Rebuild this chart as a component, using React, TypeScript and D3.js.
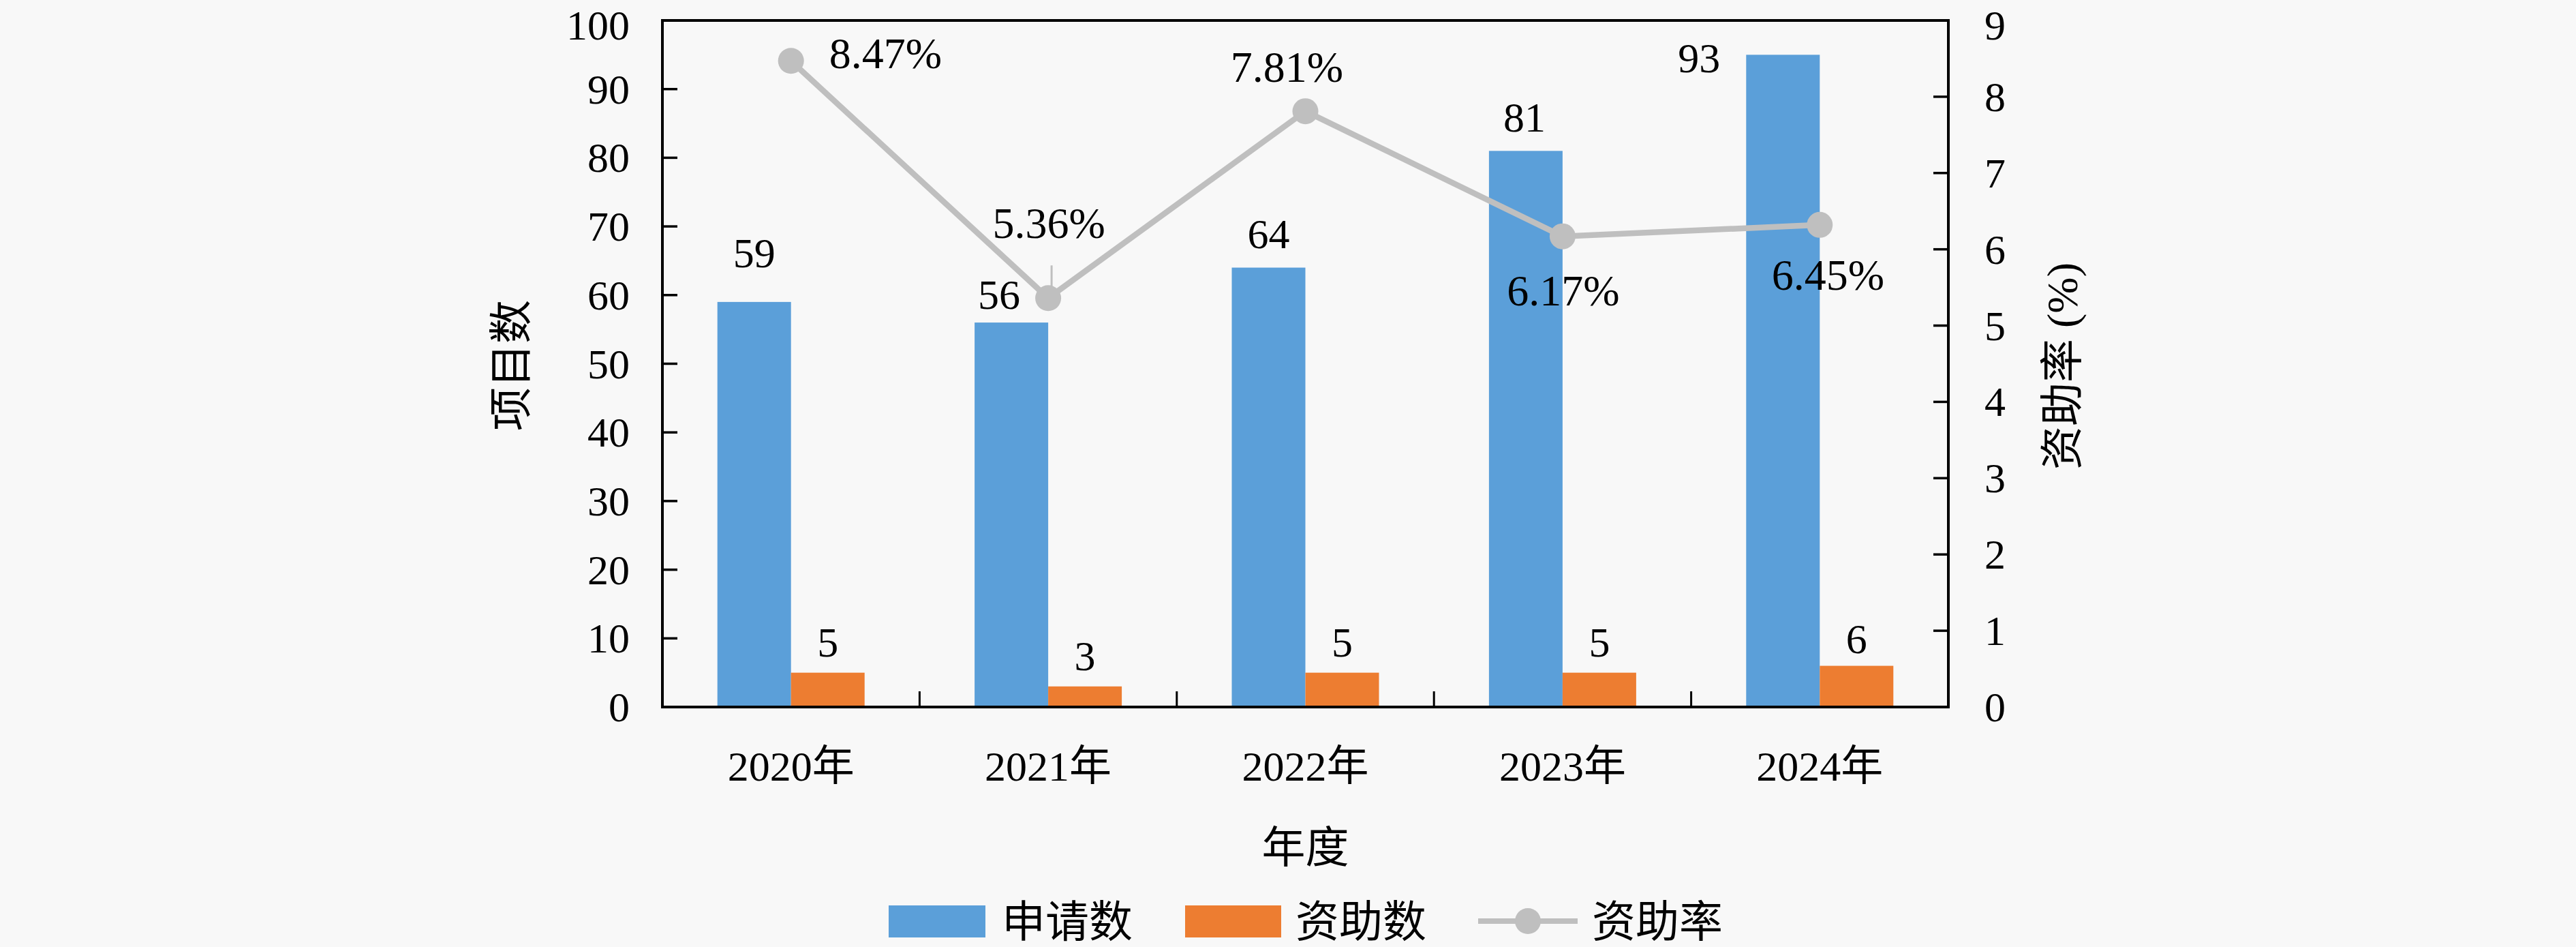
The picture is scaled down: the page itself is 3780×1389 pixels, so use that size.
import React, { useEffect } from "react";
import * as d3 from "d3";

// ---- data ----
const years = ["2020年", "2021年", "2022年", "2023年", "2024年"];
const applications = [59, 56, 64, 81, 95];
const applicationLabels = ["59", "56", "64", "81", "93"];
const funded = [5, 3, 5, 5, 6];
const fundedLabels = ["5", "3", "5", "5", "6"];
const rates = [8.47, 5.36, 7.81, 6.17, 6.32];
const rateLabels = ["8.47%", "5.36%", "7.81%", "6.17%", "6.45%"];
const leftTicks = [0, 10, 20, 30, 40, 50, 60, 70, 80, 90, 100];
const rightTicks = [0, 1, 2, 3, 4, 5, 6, 7, 8, 9];
const legendItems = ["申请数", "资助数", "资助率"];

// ---- layout ----
const W = 3780;
const H = 1389;
const M = { left: 972, right: 2859, top: 30, bottom: 1037 };
const BLUE = "#5b9fd9";
const ORANGE = "#ed7d31";
const GRAY = "#bfbfbf";
const BG = "#f8f8f8";
const FONT = "'Liberation Serif', 'Noto Sans CJK SC', serif";

// label offsets (layout only)
const appLabelOffset = [
  { dx: 0, dy: -51 },
  { dx: -18, dy: -20 },
  { dx: 0, dy: -29 },
  { dx: -2, dy: -28 },
  { dx: -123, dy: 26 },
];
const fundLabelGap = [24, 24, 24, 24, 19];
const rateLabelOffset = [
  { dx: 56, dy: 11, anchor: "start" },
  { dx: 1, dy: -88, anchor: "middle" },
  { dx: -27, dy: -43, anchor: "middle" },
  { dx: 1, dy: 101, anchor: "middle" },
  { dx: 12, dy: 95, anchor: "middle" },
];

export default function App() {
  useEffect(() => {
    document.body.style.margin = "0";
    document.body.style.background = BG;
  }, []);

  const x = d3.scaleBand<string>().domain(years).range([M.left, M.right]).padding(0);
  const yL = d3.scaleLinear().domain([0, 100]).range([M.bottom, M.top]);
  const yR = d3.scaleLinear().domain([0, 9]).range([M.bottom, M.top]);
  const barW = 108;
  const cx = (i: number) => (x(years[i]) as number) + x.bandwidth() / 2;

  const line = d3
    .line<number>()
    .x((_, i) => cx(i))
    .y((d) => yR(d));

  const fs = 62;
  const labelY = (yy: number) => Math.max(yy, 37);

  return (
    <svg
      width={W}
      height={H}
      style={{ position: "absolute", left: 0, top: 0, display: "block" }}
      fontFamily={FONT}
    >
      <rect x={0} y={0} width={W} height={H} fill={BG} />

      {/* bars */}
      {applications.map((v, i) => (
        <rect
          key={"a" + i}
          x={cx(i) - barW}
          y={yL(v)}
          width={barW}
          height={yL(0) - yL(v)}
          fill={BLUE}
        />
      ))}
      {funded.map((v, i) => (
        <rect
          key={"f" + i}
          x={cx(i)}
          y={yL(v)}
          width={barW}
          height={yL(0) - yL(v)}
          fill={ORANGE}
        />
      ))}

      {/* frame */}
      <line x1={M.left} x2={M.right} y1={M.top} y2={M.top} stroke="#000" strokeWidth={4} />
      <line x1={M.left} x2={M.right} y1={M.bottom} y2={M.bottom} stroke="#000" strokeWidth={4} />
      <line x1={M.left} x2={M.left} y1={M.top - 2} y2={M.bottom + 2} stroke="#000" strokeWidth={4} />
      <line x1={M.right} x2={M.right} y1={M.top - 2} y2={M.bottom + 2} stroke="#000" strokeWidth={4} />

      {/* left axis ticks + labels */}
      {leftTicks.map((t) => (
        <g key={"lt" + t}>
          <line x1={M.left} x2={M.left + 22} y1={yL(t)} y2={yL(t)} stroke="#000" strokeWidth={3.5} />
          <text x={924} y={labelY(yL(t))} textAnchor="end" dominantBaseline="central" fontSize={fs} fill="#000">
            {t}
          </text>
        </g>
      ))}

      {/* right axis ticks + labels */}
      {rightTicks.map((t) => (
        <g key={"rt" + t}>
          <line x1={M.right - 22} x2={M.right} y1={yR(t)} y2={yR(t)} stroke="#000" strokeWidth={3.5} />
          <text x={2912} y={labelY(yR(t))} textAnchor="start" dominantBaseline="central" fontSize={fs} fill="#000">
            {t}
          </text>
        </g>
      ))}

      {/* x category separators */}
      {years.slice(1).map((yr) => (
        <line
          key={"xt" + yr}
          x1={x(yr) as number}
          x2={x(yr) as number}
          y1={M.bottom}
          y2={M.bottom - 23}
          stroke="#000"
          strokeWidth={3}
        />
      ))}

      {/* category labels */}
      {years.map((yr, i) => (
        <text key={"xl" + yr} x={cx(i)} y={1145} textAnchor="middle" fontSize={fs} fill="#000">
          {yr}
        </text>
      ))}

      {/* rate line */}
      <path d={line(rates) as string} fill="none" stroke={GRAY} strokeWidth={8.5} strokeLinejoin="round" />
      {rates.map((r, i) => (
        <circle key={"m" + i} cx={cx(i)} cy={yR(r)} r={19} fill={GRAY} />
      ))}
      {/* leader line for 2021 rate label */}
      <line
        x1={cx(1) + 5}
        x2={cx(1) + 5}
        y1={yR(rates[1]) - 48}
        y2={yR(rates[1]) - 17}
        stroke={GRAY}
        strokeWidth={3}
      />

      {/* bar labels */}
      {applicationLabels.map((lab, i) => (
        <text
          key={"al" + i}
          x={cx(i) - barW / 2 + appLabelOffset[i].dx}
          y={yL(applications[i]) + appLabelOffset[i].dy}
          textAnchor="middle"
          fontSize={fs}
          fill="#000"
        >
          {lab}
        </text>
      ))}
      {fundedLabels.map((lab, i) => (
        <text
          key={"fl" + i}
          x={cx(i) + barW / 2}
          y={yL(funded[i]) - fundLabelGap[i]}
          textAnchor="middle"
          fontSize={fs}
          fill="#000"
        >
          {lab}
        </text>
      ))}

      {/* rate labels */}
      {rateLabels.map((lab, i) => (
        <text
          key={"rl" + i}
          x={cx(i) + rateLabelOffset[i].dx}
          y={yR(rates[i]) + rateLabelOffset[i].dy}
          textAnchor={rateLabelOffset[i].anchor as any}
          fontSize={64}
          fill="#000"
        >
          {lab}
        </text>
      ))}

      {/* axis titles */}
      <text x={(M.left + M.right) / 2} y={1265} textAnchor="middle" fontSize={64} fill="#000">
        年度
      </text>
      <text
        transform={`translate(750,536) rotate(-90)`}
        textAnchor="middle"
        dominantBaseline="central"
        fontSize={64}
        fill="#000"
      >
        项目数
      </text>
      <text
        transform={`translate(3026,537) rotate(-90)`}
        textAnchor="middle"
        dominantBaseline="central"
        fontSize={64}
        fill="#000"
      >
        资助率 (%)
      </text>

      {/* legend */}
      <rect x={1304} y={1328} width={142} height={47} fill={BLUE} />
      <text x={1470} y={1352} dominantBaseline="central" fontSize={64} fill="#000">
        {legendItems[0]}
      </text>
      <rect x={1739} y={1328} width={141} height={47} fill={ORANGE} />
      <text x={1901} y={1352} dominantBaseline="central" fontSize={64} fill="#000">
        {legendItems[1]}
      </text>
      <line x1={2169} x2={2315} y1={1351} y2={1351} stroke={GRAY} strokeWidth={8} />
      <circle cx={2242} cy={1351} r={19} fill={GRAY} />
      <text x={2336} y={1352} dominantBaseline="central" fontSize={64} fill="#000">
        {legendItems[2]}
      </text>
    </svg>
  );
}
